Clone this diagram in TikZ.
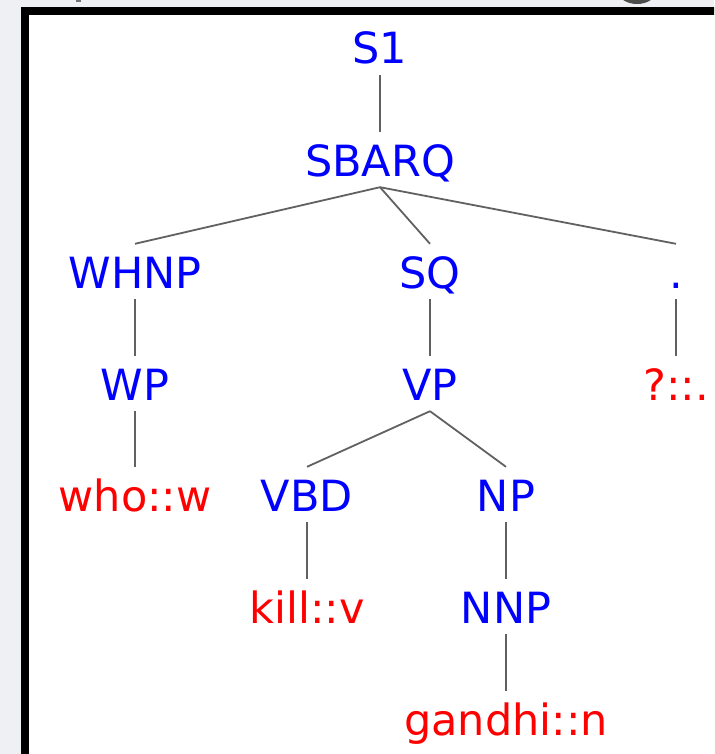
\documentclass[tikz,border=0pt]{standalone}
\usepackage{fontspec}
\setmainfont{DejaVu Sans}
\definecolor{pagebg}{RGB}{238,240,244}
\definecolor{catblue}{RGB}{0,0,255}
\definecolor{wordred}{RGB}{255,0,0}
\begin{document}
\begin{tikzpicture}[x=1pt,y=-1pt,
  lbl/.style={anchor=base, font=\fontsize{43}{43}\selectfont,
    text height=40pt, text depth=7pt, inner ysep=4pt, inner xsep=0pt},
  cat/.style={lbl, text=catblue},
  word/.style={lbl, text=wordred},
  edge/.style={draw=black!62, line width=1.8pt}]
\useasboundingbox (0,0) rectangle (714,754);
\fill[pagebg] (0,0) rectangle (714,754);
\begin{scope}
  \clip (0,0) rectangle (714,754);
  % remnants of the heading above the frame
  \fill[black!55] (76,0) rectangle (81,2.5);
  \draw[black!70, line width=4pt] (637,-9) ellipse [x radius=17, y radius=11];
  % frame
  \filldraw[fill=white, draw=black, line width=8pt] (25,11) rectangle (722,758);
\end{scope}

% tree nodes
\node[cat]  (s1)     at (380,64)  {S1};
\node[cat]  (sbarq)  at (380,176) {SBARQ};
\node[cat]  (whnp)   at (135,288) {WHNP};
\node[cat]  (sq)     at (430,288) {SQ};
\node[cat]  (dot)    at (676,288) {.};
\node[cat]  (wp)     at (135,400) {WP};
\node[cat]  (vp)     at (430,400) {VP};
\node[word] (qmark)  at (676,400) {?::.};
\node[word] (who)    at (135,511) {who::w};
\node[cat]  (vbd)    at (307,511) {VBD};
\node[cat]  (np)     at (506,511) {NP};
\node[word] (kill)   at (307,623) {kill::v};
\node[cat]  (nnp)    at (506,623) {NNP};
\node[word] (gandhi) at (506,735) {gandhi::n};

% edges
\draw[edge] (s1.south) -- (sbarq.north);
\draw[edge] (sbarq.south) -- (whnp.north);
\draw[edge] (sbarq.south) -- (sq.north);
\draw[edge] (sbarq.south) -- (dot.north);
\draw[edge] (whnp.south) -- (wp.north);
\draw[edge] (sq.south) -- (vp.north);
\draw[edge] (dot.south) -- (qmark.north);
\draw[edge] (wp.south) -- (who.north);
\draw[edge] (vp.south) -- (vbd.north);
\draw[edge] (vp.south) -- (np.north);
\draw[edge] (vbd.south) -- (kill.north);
\draw[edge] (np.south) -- (nnp.north);
\draw[edge] (nnp.south) -- (gandhi.north);
\end{tikzpicture}
\end{document}
